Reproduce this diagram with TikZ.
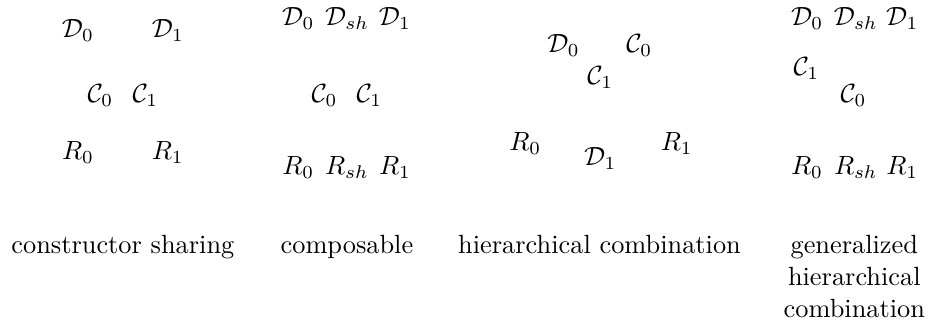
\documentclass[tikz,border=0pt]{standalone}
\usepackage{tikz}
\usetikzlibrary{positioning}
\tikzset{sym/.style={inner sep=1pt},
  lbl/.style={anchor=north, align=center}}

\begin{document}
\begin{tikzpicture}
  \useasboundingbox (0,0) rectangle (12.41,-4.32);
  % constructor sharing
  \node[sym] (a-d0) at (1.04,-0.41) {$\mathcal{D}_0$};
  \node[sym] (a-d1) at (2.24,-0.41) {$\mathcal{D}_1$};
  \node[sym] (a-c0) at (1.34,-1.27) {$\mathcal{C}_0$};
  \node[sym] (a-c1) at (1.94,-1.27) {$\mathcal{C}_1$};
  \node[sym] (a-r0) at (1.04,-2.04) {$R_0$};
  \node[sym] (a-r1) at (2.24,-2.04) {$R_1$};
  \node[lbl] (a-txt) at (1.64,-3.02) {constructor sharing};
  % composable
  \node[sym] (b-d0)  at (3.98,-0.25) {$\mathcal{D}_0$};
  \node[sym] (b-dsh) at (4.63,-0.25) {$\mathcal{D}_{sh}$};
  \node[sym] (b-d1)  at (5.27,-0.25) {$\mathcal{D}_1$};
  \node[sym] (b-c0)  at (4.33,-1.27) {$\mathcal{C}_0$};
  \node[sym] (b-c1)  at (4.93,-1.27) {$\mathcal{C}_1$};
  \node[sym] (b-r0)  at (3.98,-2.24) {$R_0$};
  \node[sym] (b-rsh) at (4.63,-2.24) {$R_{sh}$};
  \node[sym] (b-r1)  at (5.27,-2.24) {$R_1$};
  \node[lbl] (b-txt) at (4.63,-3.02) {composable};
  % hierarchical combination
  \node[sym] (c-d0) at (7.52,-0.61) {$\mathcal{D}_0$};
  \node[sym] (c-c0) at (8.53,-0.61) {$\mathcal{C}_0$};
  \node[sym] (c-c1) at (8.01,-1.04) {$\mathcal{C}_1$};
  \node[sym] (c-r0) at (7.01,-1.92) {$R_0$};
  \node[sym] (c-d1) at (8.01,-2.12) {$\mathcal{D}_1$};
  \node[sym] (c-r1) at (9.03,-1.92) {$R_1$};
  \node[lbl] (c-txt) at (8.00,-3.02) {hierarchical combination};
  % generalized hierarchical combination
  \node[sym] (d-d0)  at (10.77,-0.25) {$\mathcal{D}_0$};
  \node[sym] (d-dsh) at (11.42,-0.25) {$\mathcal{D}_{sh}$};
  \node[sym] (d-d1)  at (12.04,-0.25) {$\mathcal{D}_1$};
  \node[sym] (d-c1)  at (10.76,-0.92) {$\mathcal{C}_1$};
  \node[sym] (d-c0)  at (11.39,-1.27) {$\mathcal{C}_0$};
  \node[sym] (d-r0)  at (10.77,-2.24) {$R_0$};
  \node[sym] (d-rsh) at (11.42,-2.24) {$R_{sh}$};
  \node[sym] (d-r1)  at (12.04,-2.24) {$R_1$};
  \node[lbl] (d-txt) at (11.40,-3.02) {generalized\\hierarchical\\combination};
\end{tikzpicture}
\end{document}
